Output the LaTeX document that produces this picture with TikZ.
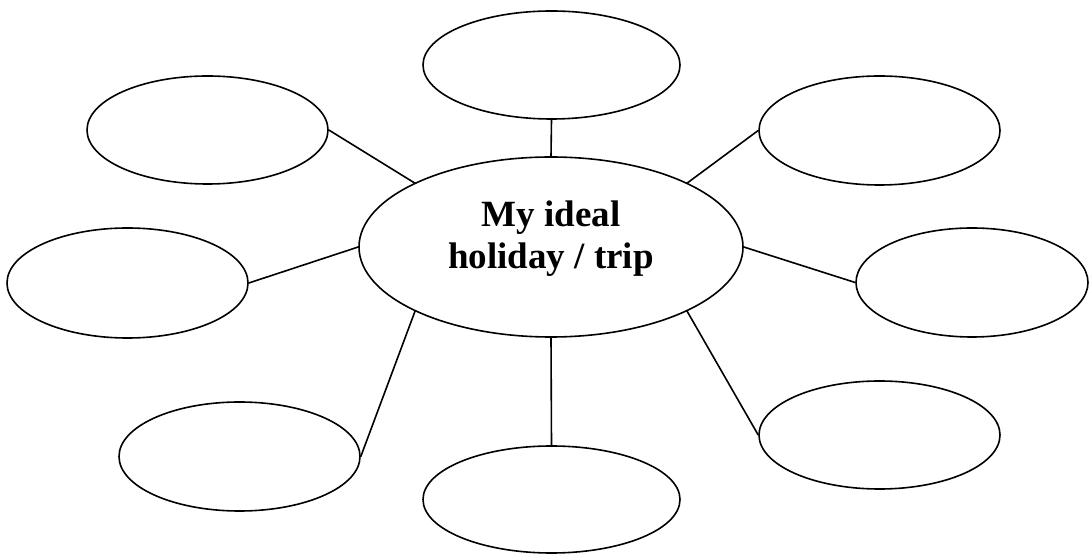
\documentclass[tikz,border=0pt]{standalone}
\usepackage{fontspec}
\setmainfont{Liberation Serif}
\usetikzlibrary{shapes.geometric}
\tikzset{
  bubble/.style={draw, ellipse, line width=1.6pt, inner sep=0pt},
  link/.style={line width=1.6pt},
  hubtext/.style={font=\fontsize{37}{42}\selectfont\bfseries, align=center, inner sep=0pt}
}
\begin{document}
\begin{tikzpicture}[x=1pt,y=1pt]
\useasboundingbox (0,0) rectangle (1089,554);
% central
\node[bubble, minimum width=384pt, minimum height=180pt] (c) at (551,307) {};
\node[hubtext, yshift=8.5pt] (ct) at (c.center) {My ideal\\holiday / trip};
% outer bubbles
\node[bubble, minimum width=257pt, minimum height=108pt] (top) at (551.5,489) {};
\node[bubble, minimum width=257pt, minimum height=107pt] (bot) at (551.5,54.5) {};
\node[bubble, minimum width=241pt, minimum height=108pt] (tl) at (207.5,424) {};
\node[bubble, minimum width=241pt, minimum height=110pt] (l) at (127.5,271) {};
\node[bubble, minimum width=241pt, minimum height=109pt] (tr) at (879.5,423.5) {};
\node[bubble, minimum width=232pt, minimum height=109pt] (r) at (972,271.5) {};
\node[bubble, minimum width=241pt, minimum height=109pt] (bl) at (239.5,97.5) {};
\node[bubble, minimum width=241pt, minimum height=108pt] (br) at (879.5,119) {};
% points on central ellipse
\path (c.center) ++(45:192 and 90) coordinate (c45);
\path (c.center) ++(135:192 and 90) coordinate (c135);
\path (c.center) ++(225:192 and 90) coordinate (c225);
\path (c.center) ++(315:192 and 90) coordinate (c315);
% connectors
\draw[link] (top.south) -- (c.north);
\draw[link] (bot.north) -- (c.south);
\draw[link] (tl.east) -- (c135);
\draw[link] (tr.west) -- (c45);
\draw[link] (l.east) -- (c.west);
\draw[link] (r.west) -- (c.east);
\draw[link] (bl.east) -- (c225);
\draw[link] (br.west) -- (c315);
\end{tikzpicture}
\end{document}
